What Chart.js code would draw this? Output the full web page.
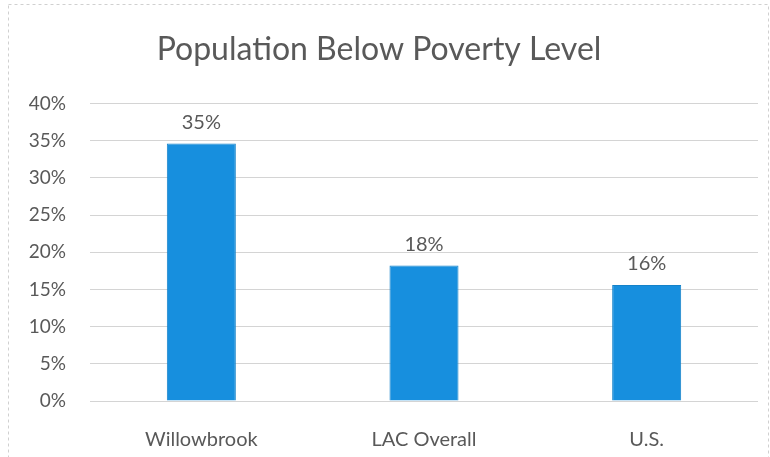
<!DOCTYPE html>
<html>
<head>
<meta charset="utf-8">
<script src="https://cdn.jsdelivr.net/npm/chart.js@4/dist/chart.umd.min.js"></script>
<style>
  html, body { margin: 0; padding: 0; background: #fff; }
  #wrap { width: 770px; height: 457px; }
</style>
</head>
<body>
<div id="wrap"><canvas id="povertyChart" width="770" height="457"></canvas></div>
<script>
// ─── Data ─────────────────────────────────────────────
const categories = ['Willowbrook', 'LAC Overall', 'U.S.'];
const povertyPct = [34.6, 18.2, 15.6];
const yTicks = [0, 5, 10, 15, 20, 25, 30, 35, 40];

const BAR = '#178fde';
const TEXT = '#595959';
const GRID = '#d4d4d4';
const FONT = "Lato, 'Open Sans', sans-serif";

// value labels above each bar
const valueLabels = {
  id: 'valueLabels',
  afterDatasetsDraw(chart) {
    const { ctx } = chart;
    const meta = chart.getDatasetMeta(0);
    ctx.save();
    ctx.font = `20px ${FONT}`;
    ctx.fillStyle = TEXT;
    ctx.textAlign = 'center';
    ctx.textBaseline = 'bottom';
    meta.data.forEach((bar, i) => {
      ctx.fillText(Math.round(povertyPct[i]) + '%', bar.x, bar.y - 11);
    });
    ctx.restore();
  }
};

// faint dashed frame round the chart
const frame = {
  id: 'frame',
  beforeDraw(chart) {
    const { ctx } = chart;
    ctx.save();
    ctx.strokeStyle = '#d0d0d0';
    ctx.lineWidth = 1;
    ctx.setLineDash([3, 3]);
    ctx.strokeRect(8.5, 4.5, 760, 460);
    ctx.restore();
  }
};

new Chart(document.getElementById('povertyChart'), {
  type: 'bar',
  data: {
    labels: categories,
    datasets: [{
      data: povertyPct,
      backgroundColor: BAR,
      borderColor: '#1482c9',
      borderWidth: 1,
      barPercentage: 1,
      categoryPercentage: 0.31
    }]
  },
  options: {
    responsive: false,
    animation: false,
    layout: { padding: { left: 0, right: 12, top: 0, bottom: 0 } },
    plugins: {
      legend: { display: false },
      tooltip: { enabled: false },
      title: {
        display: true,
        text: 'Population Below Poverty Level',
        color: TEXT,
        font: { family: FONT, size: 32, weight: 'normal' },
        padding: { top: 30, bottom: 35 }
      }
    },
    scales: {
      x: {
        grid: { display: false },
        border: { display: false },
        ticks: { color: TEXT, font: { family: FONT, size: 20 }, padding: 19 },
        afterFit: s => { s.height = 56; }
      },
      y: {
        min: 0,
        max: 40,
        afterBuildTicks: s => { s.ticks = yTicks.map(v => ({ value: v })); },
        grid: { color: GRID, drawTicks: false },
        border: { display: false },
        ticks: {
          color: TEXT,
          font: { family: FONT, size: 19 },
          padding: 24,
          callback: v => v + '%'
        },
        afterFit: s => { s.width = 90; }
      }
    }
  },
  plugins: [frame, valueLabels]
});
</script>
</body>
</html>
